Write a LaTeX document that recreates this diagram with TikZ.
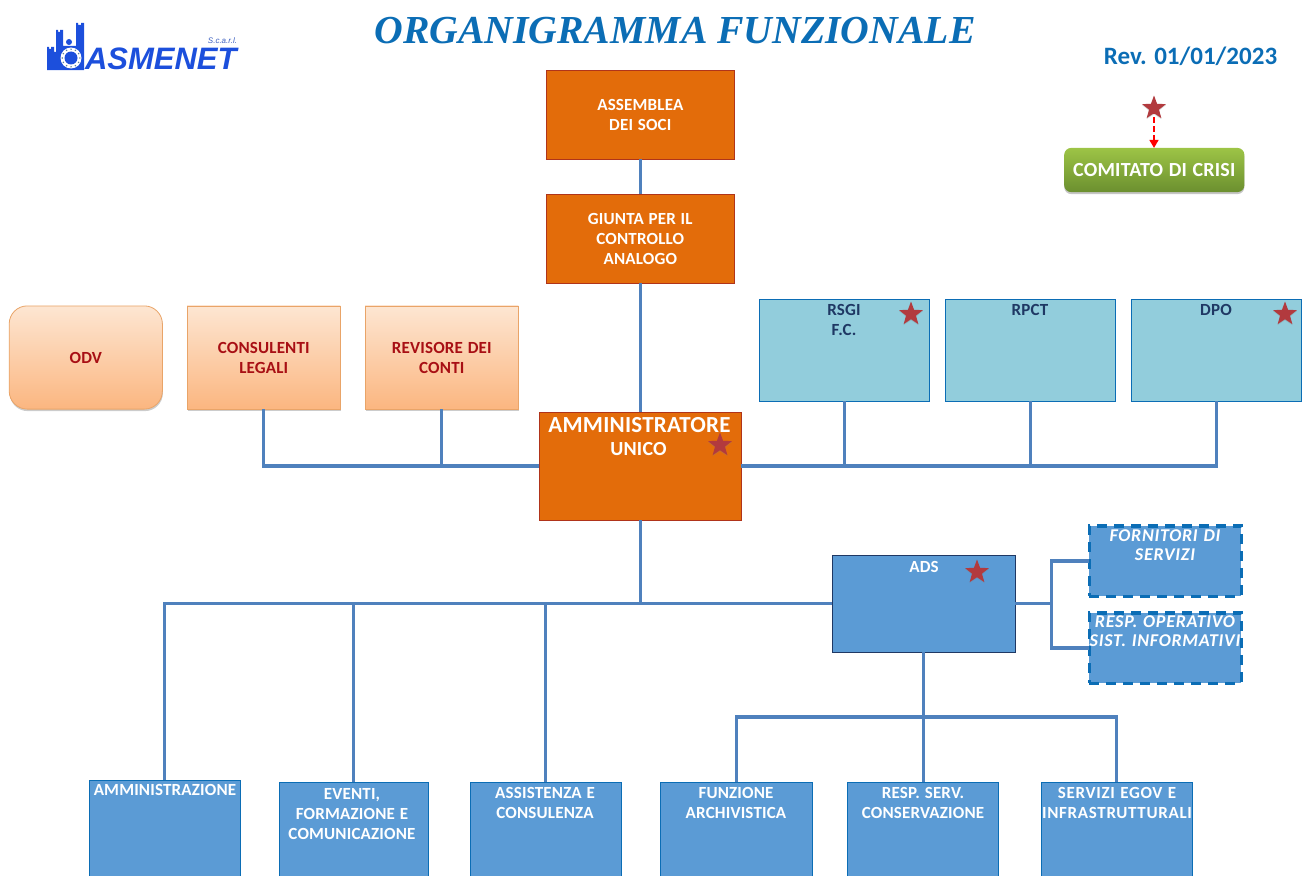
\documentclass[tikz,border=0pt]{standalone}
\usepackage{fontspec}
\setmainfont{Carlito}
\newfontfamily\boxfont{Carlito}[LetterSpace=1,WordSpace=1.2]
\newfontfamily\widefont{Carlito}[LetterSpace=4,WordSpace=1.2]
\newfontfamily\titlefont{Liberation Serif}
\newfontfamily\logofont{Liberation Sans}
\usetikzlibrary{shapes.geometric,shadows,arrows.meta,positioning}
\definecolor{orangebox}{HTML}{E36C0A}
\definecolor{orangeline}{HTML}{B0341A}
\definecolor{lightblue}{HTML}{92CDDC}
\definecolor{midblue}{HTML}{5B9BD5}
\definecolor{linkblue}{HTML}{4F81BD}
\definecolor{darktext}{HTML}{1F3864}
\definecolor{darkred}{HTML}{A80F14}
\definecolor{titleblue}{HTML}{0B6DB5}
\definecolor{logoblue}{HTML}{1C4FDC}
\definecolor{starred}{HTML}{B23A3E}
\definecolor{peachtop}{HTML}{FDE6D2}
\definecolor{peachbot}{HTML}{FBB680}
\definecolor{peachline}{HTML}{E9A468}
\definecolor{greentop}{HTML}{9DC446}
\definecolor{greenbot}{HTML}{6B8F2F}
\tikzset{
  x=1pt,y=-1pt,
  every node/.style={inner sep=0pt,outer sep=0pt},
  boxtxt/.style={font=\boxfont\bfseries\fontsize{17}{20}\selectfont,align=center,text=white},
  orangebox/.style={draw=orangeline,line width=0.8pt,fill=orangebox,boxtxt},
  peachbox/.style={draw=peachline,line width=0.8pt,top color=peachtop,bottom color=peachbot,boxtxt,text=darkred,drop shadow={shadow xshift=0.5pt,shadow yshift=-2pt,opacity=0.4}},
  skybox/.style={draw=titleblue,line width=0.8pt,fill=lightblue},
  bluebox/.style={draw=darktext,line width=0.8pt,fill=midblue},
  dashbox/.style={draw=titleblue,line width=3.2pt,dash pattern=on 10pt off 7pt,fill=midblue},
  bottombox/.style={draw=titleblue,line width=0.8pt,fill=midblue},
  toptxt/.style={boxtxt,anchor=north},
  darktxt/.style={toptxt,text=darktext},
  itxt/.style={boxtxt,anchor=north,font=\widefont\bfseries\itshape\fontsize{18}{19}\selectfont},
  link/.style={draw=linkblue,line width=3.2pt},
  redstar/.style={star,star points=5,star point ratio=2.4,minimum size=25pt,fill=starred,drop shadow={shadow xshift=0pt,shadow yshift=-1pt,opacity=0.3}},
}
\newcommand{\pbox}[6]{\node[#1,minimum width=#4-#2-0.8,minimum height=#5-#3-0.8] (#6) at ({(#2+#4)/2-0.2},{(#3+#5)/2-0.5})}
\begin{document}
\begin{tikzpicture}
\useasboundingbox (0,0) rectangle (1308,875);
\clip (0,0) rectangle (1308,875);
% logo
\fill[logoblue] (47,70) -- (47,47) -- (49,47) -- (49,49) -- (51,49) -- (51,47) -- (54,47) -- (54,52) -- (56,52) -- (56,30) -- (58,30) -- (58,32) -- (60,32) -- (60,30) -- (63,30) -- (63,46) -- (76,46) -- (76,23) -- (78,23) -- (78,25) -- (81,25) -- (81,23) -- (84,23) -- (84,70) -- cycle;
\fill[logoblue] (69,42) circle (3);
\fill[white] (71,58) circle (10.5);
\fill[logoblue] (71,58) circle (6.5);
\foreach \a in {0,30,...,330} \fill[logoblue!70!yellow] (71,58)+(\a:8.8) circle (0.8);
\node[anchor=base west,text=logoblue,font=\logofont\bfseries\itshape\fontsize{31}{31}\selectfont] (logotext) at (85,70) {ASMENET};
\node[anchor=base east,text=logoblue!70!gray,font=\logofont\itshape\fontsize{8}{8}\selectfont] (logosub) at (237,44) {S.c.a.r.l.};
% headings
\node[text=titleblue,font=\titlefont\bfseries\itshape\fontsize{39.7}{40}\selectfont] (title) at (675,31) {ORGANIGRAMMA FUNZIONALE};
\node[text=titleblue,font=\bfseries\fontsize{25}{25}\selectfont] (rev) at (1190.5,56) {Rev. 01/01/2023};
% top chain
\pbox{orangebox}{546}{70}{735}{160}{assemblea} {ASSEMBLEA\\DEI SOCI};
\pbox{orangebox}{546}{194}{735}{284}{giunta} {GIUNTA PER IL\\CONTROLLO\\ANALOGO};
\pbox{orangebox}{539}{412}{742}{521}{amm} {};
\node[boxtxt,anchor=north,font=\boxfont\bfseries\fontsize{23}{23}\selectfont] (ammtitle) at (639.5,417) {AMMINISTRATORE};
\node[boxtxt,anchor=north,font=\boxfont\bfseries\fontsize{20}{20}\selectfont] (ammsub) at (638.5,442) {UNICO};
% left row
\pbox{peachbox,rounded corners=18pt}{9}{306}{163}{410}{odv} {ODV};
\pbox{peachbox}{187}{306}{341}{410}{legali} {CONSULENTI\\LEGALI};
\pbox{peachbox}{365}{306}{519}{410}{revisore} {REVISORE DEI\\CONTI};
% right row
\pbox{skybox}{759}{299}{930}{402}{rsgi} {};
\node[darktxt] (rsgitxt) at (844,304) {RSGI\\F.C.};
\pbox{skybox}{945}{299}{1116}{402}{rpct} {};
\node[darktxt] (rpcttxt) at (1030,304) {RPCT};
\pbox{skybox}{1131}{299}{1302}{402}{dpo} {};
\node[darktxt] (dpotxt) at (1216,304) {DPO};
% ads
\pbox{bluebox}{832}{555}{1016}{653}{ads} {};
\node[toptxt] (adstxt) at (924,561) {ADS};
\pbox{dashbox}{1089}{526}{1242}{597}{forn} {};
\node[itxt] (forntxt) at (1165,530) {FORNITORI DI\\SERVIZI};
\pbox{dashbox}{1089}{613}{1242}{684}{respop} {};
\node[itxt] (respoptxt) at (1165,616) {RESP. OPERATIVO\\SIST. INFORMATIVI};
% bottom row
\pbox{bottombox}{89}{780}{241}{890}{ammin} {};
\node[toptxt] (ammintxt) at (165,784) {AMMINISTRAZIONE};
\pbox{bottombox}{279}{782}{429}{890}{eventi} {};
\node[toptxt] (eventitxt) at (352,788) {EVENTI,\\FORMAZIONE E\\COMUNICAZIONE};
\pbox{bottombox}{470}{782}{622}{890}{assist} {};
\node[toptxt] (assisttxt) at (545,787) {ASSISTENZA E\\CONSULENZA};
\pbox{bottombox}{660}{782}{813}{890}{funz} {};
\node[toptxt] (funztxt) at (736,787) {FUNZIONE\\ARCHIVISTICA};
\pbox{bottombox}{847}{782}{999}{890}{cons} {};
\node[toptxt] (constxt) at (923,787) {RESP. SERV.\\CONSERVAZIONE};
\pbox{bottombox}{1041}{782}{1193}{890}{egov} {};
\node[toptxt,font=\widefont\bfseries\fontsize{17}{20}\selectfont] (egovtxt) at (1117,787) {SERVIZI EGOV E\\INFRASTRUTTURALI};
% comitato
\pbox{rounded corners=7pt,top color=greentop,bottom color=greenbot,boxtxt,drop shadow={shadow xshift=0pt,shadow yshift=-2pt,opacity=0.45},font=\boxfont\bfseries\fontsize{20}{20}\selectfont}{1064}{148}{1245}{193}{crisi} {COMITATO DI CRISI};
% connectors
\draw[red,line width=1.6pt,dash pattern=on 6pt off 3pt,-{Triangle[width=9pt,length=8pt]}] (1154,108) coordinate (arrowstart) -- (crisi.north -| arrowstart);
% stars
\node[redstar] (starcrisi) at (arrowstart) {};
\node[redstar] (starrsgi) at (911,314) {};
\node[redstar] (stardpo) at (1285,314) {};
\node[redstar] (staramm) at (720,445) {};
\node[redstar] (starads) at (977,572) {};
\draw[link] (assemblea) -- (giunta);
\draw[link] (giunta) -- (amm.north -| giunta);
\draw[link] (amm.west) -| (legali.south);
\draw[link] (revisore.south) -- (revisore.south |- amm.west);
\draw[link] (amm.east) -| (dpo.south);
\draw[link] (rsgi.south) -- (rsgi.south |- amm.east);
\draw[link] (rpct.south) -- (rpct.south |- amm.east);
\draw[link] (amm.south) -- (amm.south |- ads.west);
\draw[link] (ads.west) -| (ammin.north);
\draw[link] (eventi.north) -- (eventi.north |- ads.west);
\draw[link] (assist.north) -- (assist.north |- ads.west);
\draw[link] (ads.east) -- ++(36,0) coordinate (adsfork);
\draw[link] (forn.west) -| (adsfork);
\draw[link] (respop.west) -| (adsfork);
\draw[link] (ads.south) -- (cons.north -| ads.south);
\coordinate (busy) at (924,717);
\draw[link] (funz.north) |- (busy) -| (egov.north);
\end{tikzpicture}
\end{document}
